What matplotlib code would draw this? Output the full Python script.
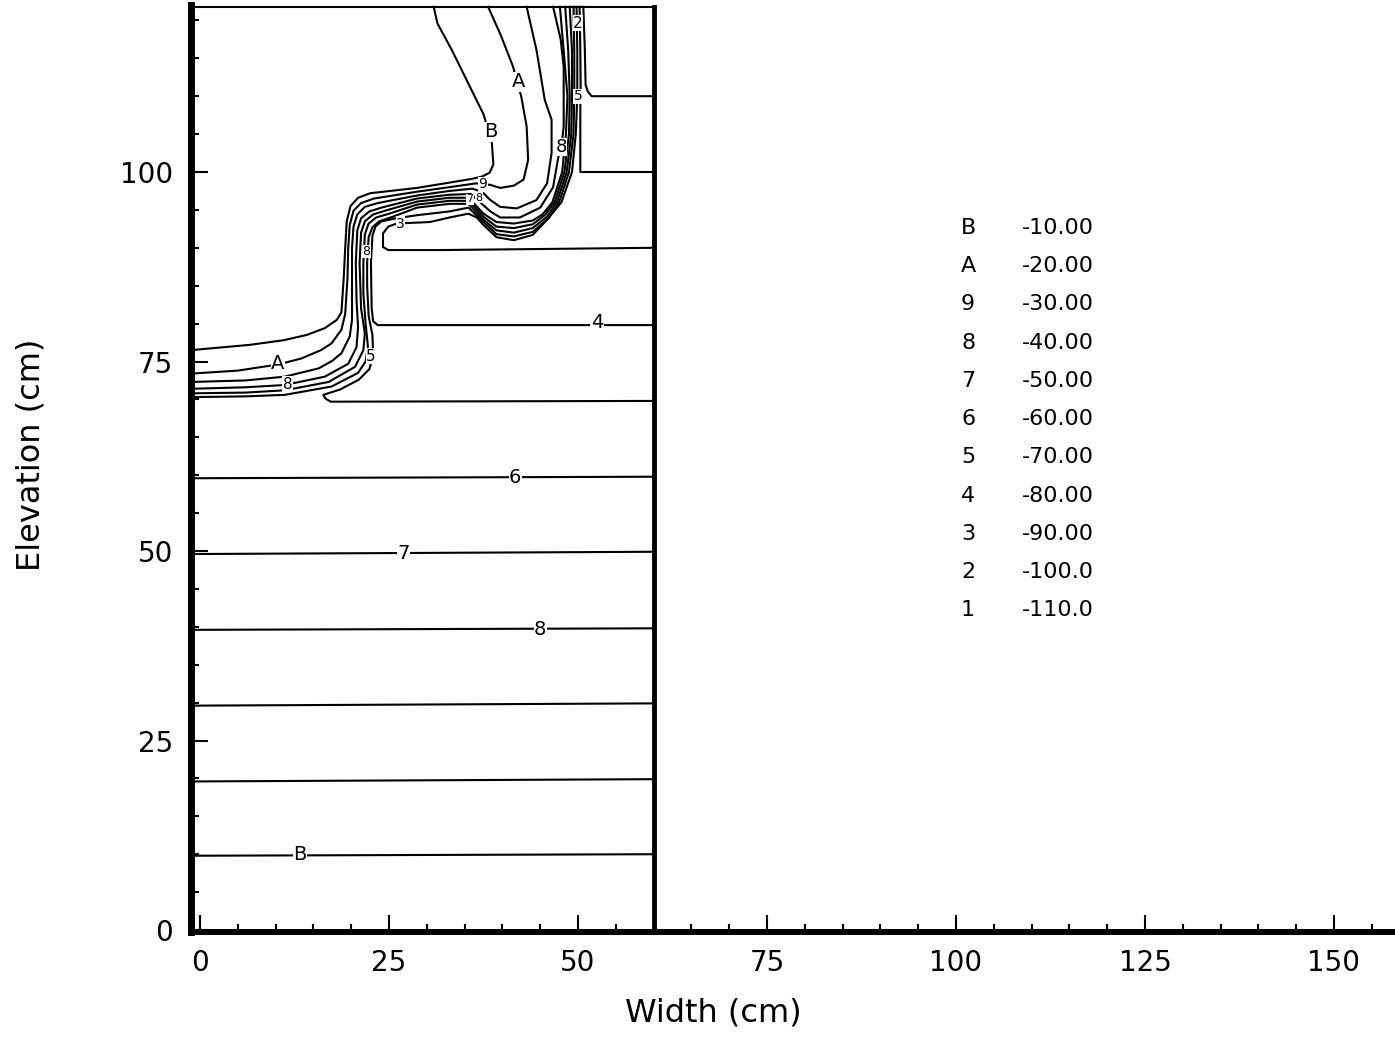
import matplotlib
matplotlib.use("Agg")
import matplotlib.pyplot as plt

# contour keys and pressure head levels (cm)
keys = ["B", "A", "9", "8", "7", "6", "5", "4", "3", "2", "1"]
levels = [-10.0, -20.0, -30.0, -40.0, -50.0, -60.0, -70.0, -80.0, -90.0, -100.0, -110.0]

# soil column outline (cm)
x_left = -1.2
x_right = 60.0
y_top = 121.8

# hydrostatic part: straight contours across the column (y at left, y at right)
flat_left = [9.8, 19.6, 29.6, 39.6, 49.6, 59.6]
flat_right = [10.0, 19.9, 29.9, 39.8, 49.9, 59.8]

# wetting front contours, (x, y) in cm
front_B = [(-1.2, 76.5), (6.6, 77.2), (11.0, 77.8), (14.1, 78.5), (16.5, 79.4), (18.1, 80.5),
           (18.7, 81.5), (19.0, 86.0), (19.2, 90.0), (19.4, 93.5), (19.9, 95.5), (20.9, 96.6),
           (22.5, 97.2), (28.7, 97.9), (33.0, 98.6), (36.0, 99.1), (37.3, 99.4), (38.3, 99.9),
           (38.8, 101.0), (38.6, 103.8), (37.5, 107.6), (33.3, 116.1), (31.4, 119.6), (30.9, 121.8)]
front_A = [(-1.2, 73.4), (5.0, 73.8), (10.3, 74.6), (13.4, 75.4), (16.0, 76.5), (17.4, 77.4),
           (18.7, 79.2), (19.2, 81.3), (19.5, 86.0), (19.6, 90.0), (19.8, 93.0), (20.3, 94.9),
           (21.3, 95.9), (23.0, 96.5), (28.7, 97.4), (33.0, 98.0), (36.5, 98.5), (38.4, 98.3),
           (39.7, 97.9), (41.5, 98.2), (42.8, 99.0), (43.4, 101.6), (43.2, 106.0), (42.5, 109.9),
           (41.4, 113.9), (39.8, 118.0), (38.1, 121.8)]
front_9 = [(-1.2, 72.3), (6.0, 72.5), (11.2, 73.0), (15.7, 74.1), (17.5, 75.1), (18.7, 76.1),
           (19.8, 78.3), (20.1, 80.5), (20.1, 86.0), (20.1, 90.0), (20.3, 92.8), (20.8, 94.4),
           (21.8, 95.4), (23.5, 95.9), (28.7, 96.9), (33.0, 97.5), (36.0, 97.8), (37.3, 97.4),
           (38.4, 96.3), (39.7, 95.4), (41.9, 95.2), (44.5, 96.3), (45.9, 98.5), (46.5, 102.5),
           (46.5, 106.9), (45.6, 109.5), (44.5, 116.1), (43.2, 121.8)]
front_8 = [(-1.2, 71.4), (6.0, 71.6), (11.2, 71.9), (16.5, 73.0), (19.6, 74.7), (20.7, 76.9),
           (20.9, 79.6), (20.7, 83.0), (20.6, 88.0), (20.8, 92.3), (21.3, 93.9), (22.4, 94.8),
           (24.0, 95.3), (28.7, 96.5), (33.0, 97.0), (35.8, 97.1), (37.5, 95.6), (38.4, 94.8),
           (39.7, 94.0), (42.3, 94.0), (45.0, 95.3), (46.7, 98.0), (47.4, 102.0), (47.8, 103.3),
           (48.1, 106.0), (48.1, 113.9), (47.7, 117.5), (46.7, 121.8)]
front_7 = [(-1.2, 70.8), (6.0, 70.9), (11.2, 71.2), (17.0, 72.3), (20.5, 74.3), (21.6, 76.5),
           (21.8, 78.7), (21.3, 82.0), (21.1, 88.0), (21.3, 92.0), (21.8, 93.5), (22.9, 94.4),
           (24.5, 94.9), (28.7, 96.1), (33.0, 96.6), (35.5, 96.6), (37.5, 94.5), (39.2, 93.4),
           (41.5, 93.2), (44.0, 93.6), (45.3, 94.4), (46.6, 96.0), (47.9, 100.0), (48.4, 105.0),
           (48.6, 110.0), (48.1, 116.0), (47.6, 121.8)]
front_6 = [(-1.2, 70.3), (6.0, 70.4), (11.2, 70.6), (17.4, 71.7), (20.9, 73.5), (21.9, 75.0),
           (22.2, 77.0), (21.9, 80.0), (21.6, 84.0), (21.6, 88.0), (21.8, 91.8), (22.3, 93.2),
           (23.3, 94.0), (25.0, 94.5), (28.7, 95.7), (33.0, 96.2), (35.5, 96.2), (37.5, 94.1),
           (39.2, 92.8), (41.5, 92.6), (44.0, 93.1), (45.6, 94.3), (46.9, 96.0), (48.2, 100.0),
           (48.8, 105.0), (48.9, 110.0), (48.7, 116.0), (48.3, 121.8)]
line_5 = [(60.0, 69.8), (17.3, 69.7), (16.6, 70.1), (16.3, 70.6), (18.5, 71.3), (21.0, 72.6),
          (22.4, 74.0), (22.9, 75.8), (22.8, 78.5), (22.3, 81.0), (22.1, 85.0), (22.1, 88.0),
          (22.3, 91.4), (22.8, 92.7), (23.7, 93.5), (25.5, 94.1), (28.7, 95.3), (33.0, 95.8),
          (35.5, 95.8), (37.5, 93.7), (39.2, 92.3), (41.5, 92.0), (44.0, 92.6), (45.9, 94.1),
          (47.2, 96.0), (48.5, 100.0), (49.1, 105.0), (49.2, 110.0), (49.2, 116.0), (48.9, 121.8)]
line_4 = [(60.0, 79.8), (23.5, 79.8), (22.9, 80.3), (22.7, 82.0), (22.6, 88.0), (22.8, 91.6),
          (23.2, 92.8), (24.0, 93.5), (26.0, 93.9), (28.7, 94.3), (33.0, 94.8), (35.5, 95.3),
          (37.5, 93.4), (39.2, 91.8), (41.5, 91.5), (44.0, 92.1), (46.1, 93.9), (47.5, 96.0),
          (48.8, 100.0), (49.4, 105.0), (49.5, 110.0), (49.5, 116.0), (49.4, 121.8)]
line_3 = [(60.0, 90.0), (31.7, 89.7), (24.9, 89.7), (24.2, 90.1), (24.2, 91.9), (24.9, 92.8),
          (26.0, 93.2), (28.2, 93.3), (30.4, 93.4), (33.0, 94.0), (35.5, 94.5), (36.6, 94.0),
          (37.5, 93.0), (39.2, 91.4), (41.5, 91.0), (44.0, 91.7), (45.9, 93.7), (47.8, 96.0),
          (49.2, 100.0), (49.7, 105.0), (49.9, 110.0), (49.9, 116.0), (49.8, 121.8)]
line_2 = [(50.2, 121.8), (50.3, 116.0), (50.35, 110.5), (50.3, 109.5), (50.3, 100.0), (60.0, 100.0)]
line_1 = [(50.7, 121.8), (50.9, 116.0), (51.0, 111.5), (51.3, 110.6), (51.8, 110.0), (60.0, 110.0)]

# in-line contour labels: (key, x, y, size)
inline_labels = [("B", 13.2, 9.9, 14), ("8", 45.0, 39.7, 14), ("7", 26.9, 49.7, 14),
                 ("6", 41.7, 59.7, 14), ("4", 52.5, 80.1, 14), ("A", 10.3, 74.7, 14),
                 ("8", 11.6, 72.0, 11), ("5", 22.6, 75.7, 11), ("3", 26.5, 93.2, 10),
                 ("8", 22.0, 89.5, 9), ("7", 35.7, 96.4, 8), ("8", 36.9, 96.6, 8),
                 ("9", 37.4, 98.4, 10), ("B", 38.4, 105.3, 14), ("A", 42.1, 111.9, 14),
                 ("8", 47.8, 103.3, 13), ("5", 50.0, 110.0, 10), ("2", 50.0, 119.6, 11)]

fig = plt.figure(figsize=(13.95, 10.37), dpi=100)
ax = fig.add_axes([191 / 1395, (1037 - 932) / 1037, 1 - 191 / 1395, 927 / 1037])
ax.set_xlim(x_left, 158.07)
ax.set_ylim(-0.26, 122.03)

lw = 1.5
for yl, yr in zip(flat_left, flat_right):
    ax.plot([x_left, x_right], [yl, yr], color="black", lw=lw)

for pts in [front_B, front_A, front_9, front_8, front_7, front_6,
            line_5, line_4, line_3, line_2, line_1]:
    xs = [p[0] for p in pts]
    ys = [p[1] for p in pts]
    ax.plot(xs, ys, color="black", lw=lw, solid_joinstyle="round")

# column outline
ax.plot([x_right, x_right], [-0.26, y_top], color="black", lw=3.5)
ax.plot([x_left, x_right], [y_top, y_top], color="black", lw=1.5)

for key, lx, ly, fs in inline_labels:
    ax.text(lx, ly, key, fontsize=fs, ha="center", va="center",
            bbox=dict(facecolor="white", edgecolor="none", pad=0.3))

# key for the contour levels
for i, (key, lev) in enumerate(zip(keys, levels)):
    ty = 92.6 - 5.04 * i
    txt = f"{lev:.2f}" if abs(lev) < 100 else f"{lev:.1f}"
    ax.text(101.6, ty, key, fontsize=16, ha="center", va="center")
    ax.text(108.7, ty, txt, fontsize=16, ha="left", va="center")

for side in ["top", "right"]:
    ax.spines[side].set_visible(False)
ax.spines["left"].set_linewidth(5)
ax.spines["bottom"].set_linewidth(4.3)

ax.set_xticks(range(0, 151, 25))
ax.set_xticks(range(5, 158, 5), minor=True)
ax.set_yticks(range(0, 101, 25))
ax.set_yticks(range(5, 121, 5), minor=True)
ax.tick_params(which="major", direction="in", length=12, width=1.5, labelsize=20)
ax.tick_params(which="minor", direction="in", length=6, width=1.5)
ax.tick_params(axis="x", pad=12)
ax.tick_params(axis="y", pad=13)

ax.set_xlabel("Width (cm)", fontsize=23)
ax.set_ylabel("Elevation (cm)", fontsize=23)
ax.xaxis.set_label_coords(0.4336, -0.071)
ax.yaxis.set_label_coords(-0.1204, 0.5146)

fig.savefig("out.png", dpi=100)
